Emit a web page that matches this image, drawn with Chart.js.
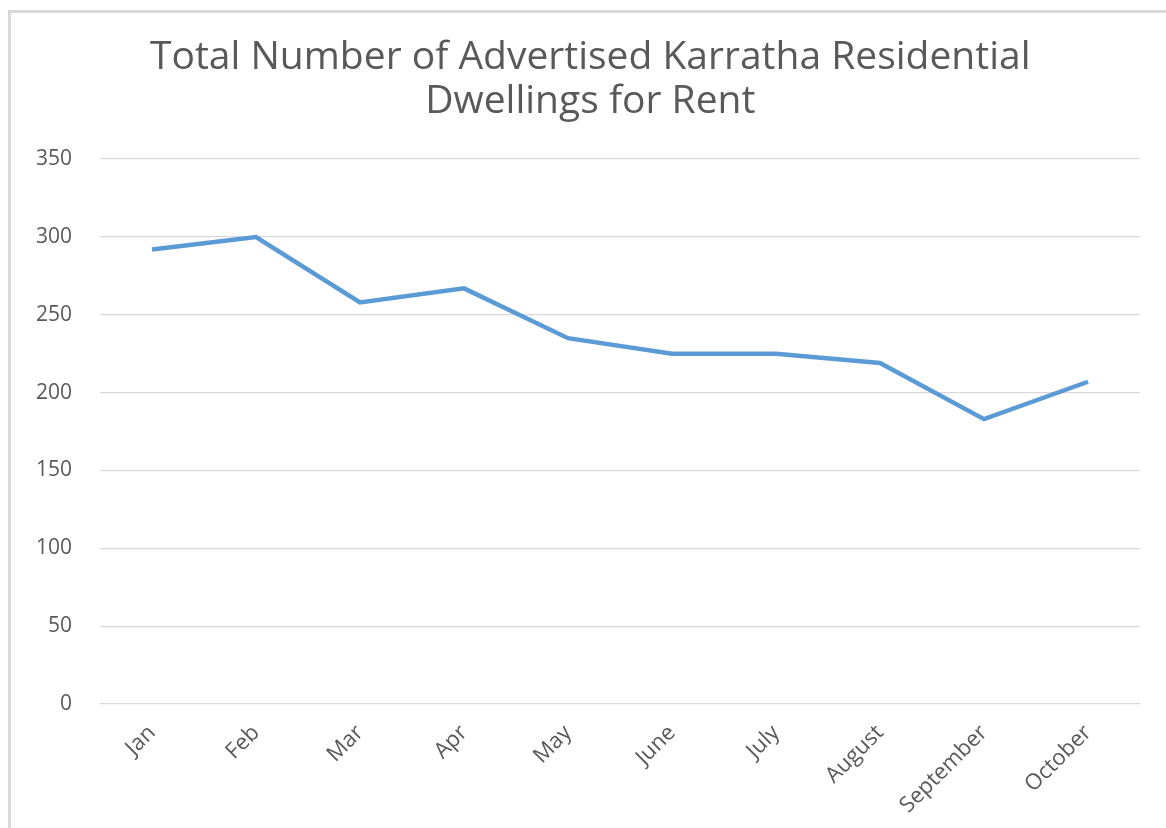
<!DOCTYPE html>
<html lang="en">
<head>
    <meta charset="UTF-8">
    <title>Karratha Rental Dwellings</title>
    <script src="https://cdn.jsdelivr.net/npm/chart.js"></script>
    <style>
        html, body { margin: 0; padding: 0; background: #fff; overflow: hidden; }
        .frame { position: absolute; left: 8px; top: 10px; width: 1200px; height: 900px; border-left: 3px solid #d9d9d9; border-top: 3px solid #d9d9d9; }
        .chart-box { position: absolute; left: 0; top: 0; width: 1166px; height: 828px; }
    </style>
</head>
<body>
    <div class="frame"></div>
    <div class="chart-box">
        <canvas id="rentChart"></canvas>
    </div>

    <script>
        const months = ['Jan', 'Feb', 'Mar', 'Apr', 'May', 'June', 'July', 'August', 'September', 'October'];
        const dwellings = [292, 300, 258, 267, 235, 225, 225, 219, 183, 207];
        // leading spaces nudge the centred title a little to the right, as in the original
        const titleLines = ['    Total Number of Advertised Karratha Residential', '    Dwellings for Rent'];

        const textGrey = '#595959';
        const gridGrey = '#d9d9d9';

        const ctx = document.getElementById('rentChart').getContext('2d');
        new Chart(ctx, {
            type: 'line',
            data: {
                labels: months,
                datasets: [{
                    data: dwellings,
                    borderColor: '#5B9BD5',
                    borderWidth: 4.5,
                    pointRadius: 0,
                    tension: 0,
                    fill: false
                }]
            },
            options: {
                responsive: true,
                maintainAspectRatio: false,
                animation: false,
                layout: { padding: { left: 0, right: 26, top: 0, bottom: 0 } },
                plugins: {
                    legend: { display: false },
                    tooltip: { enabled: false },
                    title: {
                        display: true,
                        text: titleLines,
                        color: textGrey,
                        font: { family: 'Open Sans', size: 39, weight: 'normal', lineHeight: 1.13 },
                        padding: { top: 36, bottom: 35 }
                    }
                },
                scales: {
                    x: {
                        offset: true,
                        grid: { display: false, drawTicks: false },
                        border: { display: false },
                        ticks: {
                            color: textGrey,
                            font: { family: 'Open Sans', size: 22 },
                            autoSkip: false,
                            minRotation: 45,
                            maxRotation: 45,
                            padding: 16
                        },
                        afterFit: (scale) => { scale.height = 124; }
                    },
                    y: {
                        min: 0,
                        max: 350,
                        grid: { color: gridGrey, lineWidth: 1.3, drawTicks: false },
                        border: { display: false },
                        ticks: {
                            stepSize: 50,
                            color: textGrey,
                            font: { family: 'Open Sans', size: 21 },
                            padding: 28
                        },
                        afterFit: (scale) => { scale.width = 100; }
                    }
                }
            }
        });
    </script>
</body>
</html>
